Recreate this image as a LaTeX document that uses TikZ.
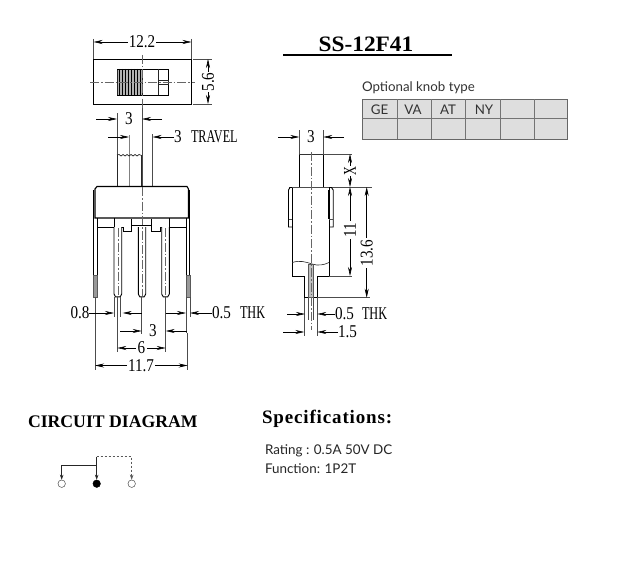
\documentclass[tikz,border=0pt]{standalone}
\usepackage{fontspec}
\usepackage{graphicx}
\setmainfont{Liberation Serif}
\newfontfamily\knobfont{Lato}
\newfontfamily\specfont[LetterSpace=4.5]{Liberation Serif}
\usetikzlibrary{arrows.meta}
\newcommand{\dg}[1]{\scalebox{.84}[1]{\fontsize{18}{18}\selectfont #1}}
\newcommand{\lt}[1]{\scalebox{.68}[1]{\fontsize{18}{18}\selectfont #1}}
\tikzset{
  part/.style={draw=black,line width=.9pt},
  thinpart/.style={draw=black!85,line width=.6pt},
  ext/.style={draw=black!70,line width=.5pt},
  dimline/.style={draw=black,line width=.6pt},
  dimtip/.style={dimline,-{Stealth[length=9pt,width=4pt]}},
  centre/.style={draw=black!60,line width=.5pt,dash pattern=on 9pt off 2pt on 1.5pt off 2pt},
  label/.style={inner sep=0pt,outer sep=0pt,fill=white,text=black},
  plain/.style={inner sep=0pt,outer sep=0pt,text=black},
  hatch/.style={draw=black!65,fill=black!40,line width=.5pt},
  cell/.style={draw=black!60,line width=1pt,fill=black!13},
  knobtext/.style={plain,font=\knobfont\fontsize{13.3}{14}\selectfont,text=black!80},
  spectext/.style={plain,anchor=west,font=\knobfont\fontsize{13.4}{14}\selectfont,text=black!85},
  terminal/.style={circle,draw=black!70,line width=.5pt,minimum size=7.5pt,inner sep=0pt,fill=white},
  wire/.style={draw=black!85,line width=.6pt,-{Stealth[length=5pt,width=3.5pt]}},
  wiredash/.style={wire,dash pattern=on 2.5pt off 1.5pt,draw=black!65}
}
\begin{document}
\begin{tikzpicture}[x=1pt,y=-1pt]
\useasboundingbox[fill=white] (0,0) rectangle (617,567);

% ---- top view ----
\draw[part] (93.5,59) rectangle (191.5,104);
\draw[thinpart,fill=black!30] (117,69) rectangle (142,95);
\foreach \x in {119,122,125,128,131,134,137,140}
  \draw[draw=black,line width=1pt] (\x,69) -- (\x,95);
\draw[part,line width=.8pt] (117,69) -- (168,69) -- (168,95) -- (117,95);
\draw[thinpart] (158,69) -- (158,95);
\draw[thinpart,fill=white] (158,80) rectangle (168,84);
\draw[centre] (90,82) -- (195,82);
\draw[centre] (142,55) -- (142,108);
% 12.2
\draw[ext] (93.5,39) -- (93.5,59) (191.5,39) -- (191.5,59);
\node[label,inner xsep=1pt] (d122) at (142,42) {\dg{12.2}};
\draw[dimtip] (d122.west) -- (93.5,42);
\draw[dimtip] (d122.east) -- (191.5,42);
% 5.6
\draw[ext] (193,59) -- (212,59) (193,104) -- (212,104);
\node[label,rotate=90,inner xsep=1pt] (d56) at (208,82) {\dg{5.6}};
\draw[dimtip] (d56.east) -- (208,59);
\draw[dimtip] (d56.west) -- (208,104);
% 3 (front)
\draw[ext] (117,113) -- (117,186) (142,108) -- (142,186);
\node[plain] (d3a) at (129,119) {\dg{3}};
\coordinate (d3al) at (96,119);
\coordinate (d3ar) at (162,119);
\draw[dimtip] (d3al) -- (117,119);
\draw[dimtip] (d3ar) -- (142,119);
% travel
\coordinate (trl) at (108,137);
\node[plain,anchor=west] (tr3) at (174,137) {\dg{3}};
\node[plain,anchor=west] (trv) at (191,137) {\lt{TRAVEL}};
\draw[dimtip] (trl) -- (129,137);
\draw[dimtip] (tr3.west) -- (152.5,137);
\draw[ext,draw=black!50] (129,135) -- (129,186);
\draw[ext] (152.5,134) -- (152.5,186);

% ---- front view ----
\draw[thinpart,line width=.8pt] (117,155) -- (117,186) (141.5,155) -- (141.5,186);
\draw[thinpart,line width=.7pt] (117,155) -- (119,154.5) -- (121,156) -- (123,154.5) -- (125,156) -- (127,154.5) -- (129,156) -- (131,154.5) -- (133,156) -- (135,154.5) -- (137,156) -- (139,154.5) -- (141.5,155.5);
% leads behind the body
\draw[part] (93.3,190) -- (93.3,297) -- (97.3,297) -- (97.3,218);
\draw[part] (189.8,190) -- (189.8,297) -- (186,297) -- (186,218);
\draw[hatch] (93.3,275) rectangle (97.3,297);
\draw[hatch] (186,275) rectangle (189.8,297);
% body
\draw[part,line width=1.1pt] (95,218) -- (95,189) -- (97,186.5) -- (187,186.5) -- (188.5,189) -- (188.5,218) -- cycle;
\draw[part,line width=.8pt] (97.3,227) -- (114,227) -- (114,218);
\draw[part,line width=.8pt] (114,227) -- (123.3,227) -- (123.3,231.5) -- (131.7,231.5) -- (131.7,219);
\draw[part,line width=.8pt] (131.7,225) -- (151.7,225);
\draw[part,line width=.8pt] (151.7,219) -- (151.7,231.5) -- (160,231.5) -- (160,227) -- (186,227);
\draw[part,line width=.8pt] (169.3,218) -- (169.3,227);
% pins
\foreach \xa/\xb in {114/121.7,138.3/145.7,161.7/169.3}{
  \draw[part,fill=white] (\xa,227) -- (\xa,294) -- (\xa+1.5,296.8) -- (\xb-1.5,296.8) -- (\xb,294) -- (\xb,227);
}
\draw[centre] (142,187) -- (142,296);
\draw[centre] (118,228) -- (118,296);
\draw[centre] (165.5,228) -- (165.5,296);
% lower dimensions of the front view
\draw[ext] (114,297) -- (114,317) (120,297) -- (120,317);
\draw[ext] (117.3,297) -- (117.3,352) (141.7,297) -- (141.7,334);
\draw[ext] (165.7,297) -- (165.7,352);
\draw[ext] (186,297) -- (186,333) (190,297) -- (190,317);
\draw[ext] (95,297) -- (95,370) (187.7,333) -- (187.7,370);
\node[plain] (d08) at (80,313) {\dg{0.8}};
\draw[dimtip] (d08.east) -- (114,313);
\coordinate (d08r) at (141.7,313);
\draw[dimtip] (d08r) -- (122.7,313);
\node[plain] (d3b) at (153,331) {\dg{3}};
\coordinate (d3bl) at (120,331);
\coordinate (d3br) at (186.7,331);
\draw[dimtip] (d3bl) -- (141.7,331);
\draw[dimtip] (d3br) -- (165.7,331);
\node[label,inner xsep=2pt] (d6) at (141.5,348) {\dg{6}};
\draw[dimtip] (d6.west) -- (117.3,348);
\draw[dimtip] (d6.east) -- (165.7,348);
\node[label,inner xsep=1pt] (d117) at (141,365.5) {\dg{11.7}};
\draw[dimtip] (d117.west) -- (95,365.5);
\draw[dimtip] (d117.east) -- (187.7,365.5);
\node[plain,anchor=west] (thk1a) at (212,313) {\dg{0.5}};
\node[plain,anchor=west] (thk1b) at (240,313) {\lt{THK}};
\coordinate (t1l) at (165.7,313);
\draw[dimtip] (t1l) -- (186,313);
\draw[dimtip] (thk1a.west) -- (190,313);

% ---- side view ----
\draw[part] (299.3,187) -- (299.3,154) -- (323.3,154) -- (323.3,187);
\draw[part,line width=1.6pt,draw=black!80] (299.3,154.3) -- (323.3,154.3);
\draw[part] (292.3,276) -- (292.3,187) (329,187) -- (329,276);
\draw[part] (292.3,276) -- (304.3,276) -- (304.3,297.7) -- (317.3,297.7) -- (317.3,276) -- (329,276);
\draw[ext] (289,187) -- (372,187);
\draw[part] (292,187.5) -- (290,187.5) -- (288.5,190) -- (288.5,227) -- (292.3,227);
\draw[part] (329,187.5) -- (331.5,187.5) -- (333.2,190) -- (333.2,227) -- (329,227);
\draw[line width=1.5pt,draw=black] (292.3,190) -- (292.3,219) (329,190) -- (329,219);
\draw[ext] (288.5,219) -- (292.3,219) (329,219) -- (333.2,219);
\draw[thinpart] (292.3,262.5) .. controls (300,260) and (306,262) .. (312,264) .. controls (318,266) and (324,265) .. (329,262.5);
\draw[hatch,fill=black!25] (308,264) rectangle (313,297.7);
\draw[centre] (311.3,152) -- (311.3,330);
% side dims
\draw[ext] (299.3,130) -- (299.3,154) (323.3,130) -- (323.3,154);
\node[plain] (d3c) at (311,137) {\dg{3}};
\coordinate (d3cl) at (278,137);
\coordinate (d3cr) at (344,137);
\draw[dimtip] (d3cl) -- (299.3,137);
\draw[dimtip] (d3cr) -- (323.3,137);
\draw[ext] (323.3,154) -- (352,154);
\node[label,rotate=90,inner xsep=1pt,inner ysep=.5pt] (dX) at (350,171) {\lt{X}};
\draw[dimtip] (dX.east) -- (350,154);
\draw[dimtip] (dX.west) -- (350,187);
\draw[ext] (329,276) -- (352,276);
\node[label,rotate=90,inner xsep=2pt] (d11) at (350,230) {\dg{11}};
\draw[dimtip] (d11.east) -- (350,187);
\draw[dimtip] (d11.west) -- (350,276);
\draw[ext] (317,297.7) -- (370,297.7);
\node[label,rotate=90,inner xsep=2pt] (d136) at (366.7,253) {\dg{13.6}};
\draw[dimtip] (d136.east) -- (366.7,187);
\draw[dimtip] (d136.west) -- (366.7,297.7);
\draw[ext] (304.3,298) -- (304.3,336) (308,298) -- (308,320) (313,298) -- (313,320) (317.3,298) -- (317.3,336);
\node[plain,anchor=west] (thk2a) at (335,314) {\dg{0.5}};
\node[plain,anchor=west] (thk2b) at (362,314) {\lt{THK}};
\coordinate (t2l) at (287,314);
\draw[dimtip] (t2l) -- (305,314);
\draw[dimtip] (thk2a.west) -- (317.3,314);
\node[plain,anchor=west] (d15) at (338,332) {\dg{1.5}};
\coordinate (d15l) at (283,332);
\draw[dimtip] (d15l) -- (304.3,332);
\draw[dimtip] (d15.west) -- (317.3,332);

% ---- title ----
\node[plain] (title) at (366,44) {\scalebox{1.06}[1]{\fontsize{22}{22}\selectfont\bfseries SS-12F41}};
\draw[draw=black,line width=2pt] (283,55) -- (452,55);

% ---- knob table ----
\node[knobtext,anchor=west] (knobhead) at (362,88) {Optional knob type};
\draw[cell] (362,99) rectangle (567,139);
\draw[draw=black!55,line width=.8pt] (362,118) -- (567,118);
\foreach \x in {397.3,431.7,465.7,500,534.3}
  \draw[draw=black!55,line width=.8pt] (\x,99) -- (\x,139);
\node[knobtext] (kge) at (379.6,110) {GE};
\node[knobtext] (kva) at (413,110) {VA};
\node[knobtext] (kat) at (448,110) {AT};
\node[knobtext] (kny) at (484,110) {NY};

% ---- circuit ----
\node[plain,anchor=west] (circ) at (28,422) {\fontsize{17.7}{18}\selectfont\bfseries CIRCUIT DIAGRAM};
\node[terminal] (t1) at (61.7,483.7) {};
\node[terminal,fill=black,draw=black] (t2) at (96.7,483.7) {};
\node[terminal] (t3) at (131.7,483.7) {};
\coordinate (com) at (96.7,456.7);
\coordinate (cl) at (61.7,465);
\coordinate (cj) at (96.7,465);
\coordinate (cr) at (131.7,456.7);
\draw[wire] (cj) -- (cl) -- (t1);
\draw[wire] (com) -- (t2);
\draw[wiredash] (com) -- (cr) -- (t3);

% ---- specifications ----
\node[plain,anchor=west] (spec) at (262,419) {\specfont\fontsize{19}{19}\selectfont\bfseries Specifications:};
\node[spectext] (rating) at (265,451) {Rating : 0.5A 50V DC};
\node[spectext] (func) at (265,469) {Function: 1P2T};
\end{tikzpicture}
\end{document}
